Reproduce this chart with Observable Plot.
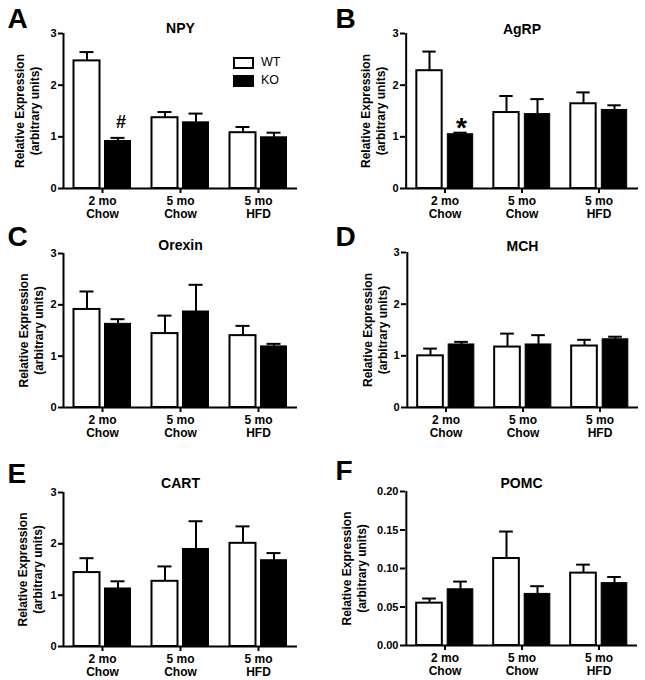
<!DOCTYPE html>
<html><head><meta charset="utf-8">
<script src="https://cdn.jsdelivr.net/npm/d3@7"></script>
<script src="https://cdn.jsdelivr.net/npm/@observablehq/plot@0.6"></script>
<style>
html,body{margin:0;padding:0;background:#fff;}
#fig{position:relative;width:645px;height:680px;overflow:hidden;font-family:"Liberation Sans",Arial,sans-serif;color:#000;}
#fig svg text{font-weight:700;}
.panel{position:absolute;}
.legend{position:absolute;font-size:12.5px;font-family:"Liberation Sans",Arial,sans-serif;}
.legend .row{position:absolute;left:0;height:12px;white-space:nowrap;}
.legend .box{position:absolute;left:0;top:0;width:17px;height:8px;border:2px solid #000;}
.legend .lab{position:absolute;left:28px;top:-2px;}
</style></head><body><div id="fig"></div>
<script>
// ---------- data ----------
const groups = ["2 mo\nChow", "5 mo\nChow", "5 mo\nHFD"];
const genotypes = ["WT", "KO"];
const panelLetters = ["A", "B", "C", "D", "E", "F"];
const genes = ["NPY", "AgRP", "Orexin", "MCH", "CART", "POMC"];
// values per gene: [2mo WT, 2mo KO, 5mo WT, 5mo KO, HFD WT, HFD KO]
const npyMean    = [2.47, 0.92, 1.37, 1.28, 1.08, 0.99];
const npySem     = [0.17, 0.06, 0.11, 0.17, 0.11, 0.09];
const agrpMean   = [2.28, 1.05, 1.47, 1.44, 1.64, 1.52];
const agrpSem    = [0.37, 0.03, 0.32, 0.29, 0.22, 0.09];
const orexinMean = [1.91, 1.63, 1.44, 1.87, 1.40, 1.19];
const orexinSem  = [0.35, 0.09, 0.35, 0.52, 0.19, 0.05];
const mchMean    = [1.00, 1.22, 1.17, 1.22, 1.19, 1.32];
const mchSem     = [0.14, 0.05, 0.26, 0.18, 0.12, 0.05];
const cartMean   = [1.44, 1.13, 1.27, 1.90, 2.01, 1.68];
const cartSem    = [0.28, 0.14, 0.29, 0.54, 0.33, 0.14];
const pomcMean   = [0.055, 0.073, 0.113, 0.067, 0.094, 0.081];
const pomcSem    = [0.006, 0.010, 0.035, 0.010, 0.011, 0.008];
const yTicksDefault = [0, 1, 2, 3];
const yTicksPomc = [0, 0.05, 0.10, 0.15, 0.20];
const yLabel = "Relative Expression\n(arbitrary units)";
// significance marks: gene index, group index, genotype, symbol
const sigGene = [0, 1];
const sigGroup = [0, 0];
const sigGenotype = ["KO", "KO"];
const sigSymbol = ["#", "*"];

const means = [npyMean, agrpMean, orexinMean, mchMean, cartMean, pomcMean];
const sems = [npySem, agrpSem, orexinSem, mchSem, cartSem, pomcSem];

// ---------- layout ----------
const layout = [
  {left: 0,   top: 0,   width: 322, height: 225, mL: 63, mR: 25, mT: 33, mB: 37, labDx: -37, letDx: -56, letDy: -14, titDy: -5},
  {left: 322, top: 0,   width: 323, height: 225, mL: 83, mR: 7,  mT: 33, mB: 37, labDx: -33, letDx: -70, letDy: -14, titDy: -4},
  {left: 0,   top: 225, width: 322, height: 225, mL: 63, mR: 25, mT: 28, mB: 43, labDx: -33, letDx: -56, letDy: -16, titDy: -8},
  {left: 322, top: 225, width: 323, height: 225, mL: 84, mR: 7,  mT: 27, mB: 43, labDx: -32, letDx: -71, letDy: -15, titDy: -6},
  {left: 0,   top: 450, width: 322, height: 230, mL: 63, mR: 25, mT: 42, mB: 34, labDx: -34, letDx: -56, letDy: -18, titDy: -9},
  {left: 322, top: 450, width: 323, height: 230, mL: 83, mR: 8,  mT: 41, mB: 35, labDx: -52, letDx: -70, letDy: -20, titDy: -8}
];
const FONT = "'Liberation Sans', Arial, Helvetica, sans-serif";
const fig = document.getElementById("fig");

panelLetters.forEach((letter, p) => {
  const L = layout[p];
  const rows = [];
  groups.forEach((g, gi) => genotypes.forEach((gt, ti) => {
    const k = gi * 2 + ti;
    rows.push({group: g, genotype: gt, mean: means[p][k], sem: sems[p][k]});
  }));
  const wt = rows.filter(d => d.genotype === "WT");
  const ko = rows.filter(d => d.genotype === "KO");
  const isPomc = genes[p] === "POMC";
  const yTicks = isPomc ? yTicksPomc : yTicksDefault;
  const yMax = yTicks[yTicks.length - 1];
  const bw = (L.width - L.mL - L.mR) / groups.length;
  const barW = 26, gap = 5;
  const outer = (bw - 2 * barW - gap) / 2;
  const off = (barW + gap) / 2;
  const capHalf = 7;
  const sig = [];
  sigGene.forEach((gIdx, i) => {
    if (gIdx === p) {
      const r = rows.find(d => d.group === groups[sigGroup[i]] && d.genotype === sigGenotype[i]);
      sig.push({group: r.group, top: r.mean + r.sem, symbol: sigSymbol[i]});
    }
  });

  const chart = Plot.plot({
    width: L.width,
    height: L.height,
    marginLeft: L.mL,
    marginRight: L.mR,
    marginTop: L.mT,
    marginBottom: L.mB,
    style: {fontFamily: FONT, background: "white", color: "black", overflow: "visible"},
    x: {type: "band", domain: groups, padding: 0, axis: null},
    y: {domain: [0, yMax], axis: null},
    marks: [
      Plot.barY(wt, {x: "group", y: "mean", fill: "white", stroke: "black", strokeWidth: 2,
        insetLeft: outer, insetRight: bw - outer - barW}),
      Plot.barY(ko, {x: "group", y: "mean", fill: "black", stroke: "black", strokeWidth: 1,
        insetLeft: outer + barW + gap, insetRight: outer}),
      Plot.ruleX(wt, {x: "group", y1: "mean", y2: d => d.mean + d.sem, dx: -off, stroke: "black", strokeWidth: 2}),
      Plot.ruleX(ko, {x: "group", y1: "mean", y2: d => d.mean + d.sem, dx: off, stroke: "black", strokeWidth: 2}),
      Plot.tickY(wt, {x: "group", y: d => d.mean + d.sem, dx: -off, insetLeft: bw / 2 - capHalf, insetRight: bw / 2 - capHalf, stroke: "black", strokeWidth: 2}),
      Plot.tickY(ko, {x: "group", y: d => d.mean + d.sem, dx: off, insetLeft: bw / 2 - capHalf, insetRight: bw / 2 - capHalf, stroke: "black", strokeWidth: 2}),
      Plot.ruleY([0], {stroke: "black", strokeWidth: 2}),
      Plot.ruleX([groups[0]], {x: d => d, y1: 0, y2: yMax, dx: -bw / 2, stroke: "black", strokeWidth: 2}),
      Plot.axisY({ticks: yTicks, tickSize: 5, tickPadding: 2, strokeWidth: 2, fontSize: 11, fontWeight: "bold",
        tickFormat: isPomc ? d3.format(".2f") : d3.format("d"), label: null}),
      Plot.axisX({tickSize: 5, tickPadding: 3, strokeWidth: 2, fontSize: 12, lineHeight: 1.05, fontWeight: "bold", label: null}),
      Plot.text([yLabel], {frameAnchor: "left", rotate: -90, dx: L.labDx, textAnchor: "middle", lineAnchor: "middle",
        lineHeight: 1.25, fontSize: 12, fontWeight: "bold"}),
      Plot.text([genes[p]], {frameAnchor: "top", dy: L.titDy, textAnchor: "middle", lineAnchor: "middle", fontSize: 14, fontWeight: "bold"}),
      Plot.text([letter], {frameAnchor: "top-left", dx: L.letDx, dy: L.letDy, textAnchor: "start", lineAnchor: "middle", fontSize: 28, fontWeight: "bold"}),
      Plot.text(sig.filter(d => d.symbol === "#"), {x: "group", y: "top", text: "symbol", dx: off + 3, dy: -16, fontSize: 18, fontWeight: "bold", lineAnchor: "middle"}),
      Plot.text(sig.filter(d => d.symbol === "*"), {x: "group", y: "top", text: "symbol", dx: off + 1, dy: -5, fontSize: 28, fontWeight: "bold", lineAnchor: "middle"})
    ]
  });
  const wrap = document.createElement("div");
  wrap.className = "panel";
  wrap.style.left = L.left + "px";
  wrap.style.top = L.top + "px";
  wrap.appendChild(chart);
  fig.appendChild(wrap);
});

// legend for panel A
const legend = document.createElement("div");
legend.className = "legend";
legend.style.left = "233px";
legend.style.top = "57px";
const fills = ["white", "black"];
genotypes.forEach((gt, i) => {
  const row = document.createElement("div");
  row.className = "row";
  row.style.top = (i * 18) + "px";
  const box = document.createElement("div");
  box.className = "box";
  box.style.background = fills[i];
  const lab = document.createElement("span");
  lab.className = "lab";
  lab.textContent = gt;
  row.appendChild(box); row.appendChild(lab);
  legend.appendChild(row);
});
fig.appendChild(legend);
</script></body></html>
